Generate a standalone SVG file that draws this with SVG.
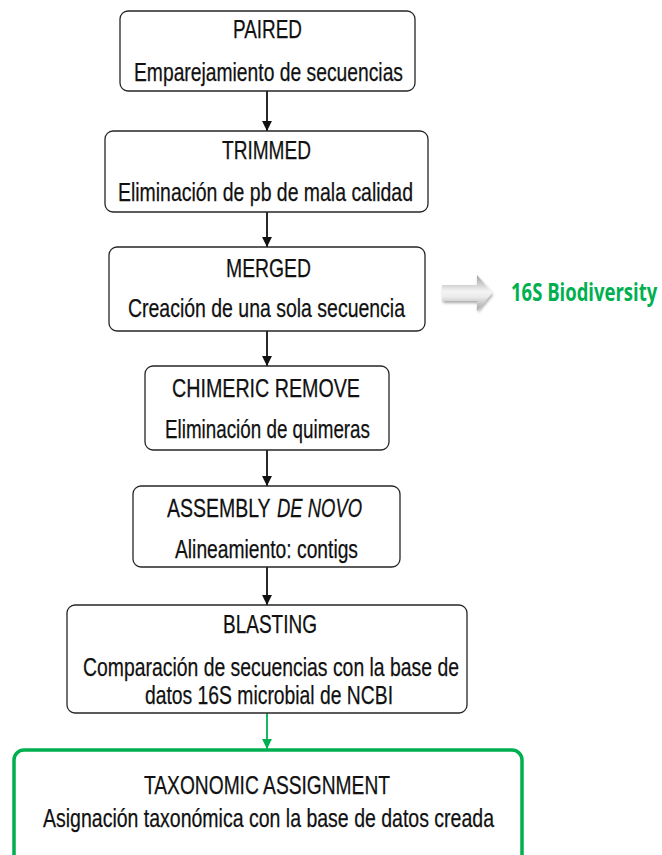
<svg xmlns="http://www.w3.org/2000/svg" width="662" height="855" viewBox="0 0 662 855">
  <defs>
    <style>
      .box { fill: #ffffff; stroke: #262626; stroke-width: 1.3; }
      .box-green { fill: #ffffff; stroke: #00b050; stroke-width: 3.5; }
      .t { font-family: "Liberation Sans", Arial, sans-serif; font-size: 26px; fill: #111111; stroke: #111111; stroke-width: 0.25; }
      .link { stroke: #111111; stroke-width: 1.8; fill: none; }
      .link-green { stroke: #00b050; stroke-width: 1.8; fill: none; }
      .note { font-family: "Open Sans", "Liberation Sans", sans-serif; font-weight: bold; font-size: 25px; fill: #00b050; }
    </style>
    <marker id="ah" viewBox="0 0 10 10" refX="10" refY="5" markerWidth="5.5" markerHeight="6" orient="auto" markerUnits="strokeWidth">
      <path d="M0,0 L10,5 L0,10 z" fill="#111111"/>
    </marker>
    <marker id="ahg" viewBox="0 0 10 10" refX="10" refY="5" markerWidth="5.5" markerHeight="6" orient="auto" markerUnits="strokeWidth">
      <path d="M0,0 L10,5 L0,10 z" fill="#00b050"/>
    </marker>
    <linearGradient id="bevel" x1="0" y1="0" x2="0" y2="1">
      <stop offset="0" stop-color="#9e9e9e"/>
      <stop offset="0.45" stop-color="#f4f4f4"/>
      <stop offset="0.6" stop-color="#ececec"/>
      <stop offset="1" stop-color="#a0a0a0"/>
    </linearGradient>
    <filter id="soft" x="-20%" y="-30%" width="140%" height="160%">
      <feGaussianBlur in="SourceAlpha" stdDeviation="1.5"/>
      <feOffset dx="1" dy="2" result="s"/>
      <feComponentTransfer><feFuncA type="linear" slope="0.35"/></feComponentTransfer>
      <feMerge><feMergeNode/><feMergeNode in="SourceGraphic"/></feMerge>
    </filter>
  </defs>

  <!-- connectors -->
  <g id="connectors">
    <line class="link" x1="267" y1="91" x2="267" y2="131" marker-end="url(#ah)"/>
    <line class="link" x1="267" y1="212" x2="267" y2="247" marker-end="url(#ah)"/>
    <line class="link" x1="267" y1="331" x2="267" y2="366" marker-end="url(#ah)"/>
    <line class="link" x1="267" y1="450" x2="267" y2="486" marker-end="url(#ah)"/>
    <line class="link" x1="267" y1="567" x2="267" y2="605" marker-end="url(#ah)"/>
    <line class="link-green" x1="267" y1="713" x2="267" y2="749" marker-end="url(#ahg)"/>
  </g>

  <g id="paired">
    <rect class="box" x="120" y="11" width="295" height="80" rx="8"/>
    <text class="t" x="233" y="38" textLength="69" lengthAdjust="spacingAndGlyphs">PAIRED</text>
    <text class="t" x="134" y="81" textLength="269" lengthAdjust="spacingAndGlyphs">Emparejamiento de secuencias</text>
  </g>

  <g id="trimmed">
    <rect class="box" x="105" y="131" width="323" height="81" rx="8"/>
    <text class="t" x="222" y="159" textLength="89" lengthAdjust="spacingAndGlyphs">TRIMMED</text>
    <text class="t" x="118" y="201" textLength="295" lengthAdjust="spacingAndGlyphs">Eliminación de pb de mala calidad</text>
  </g>

  <g id="merged">
    <rect class="box" x="109" y="247" width="316" height="84" rx="8"/>
    <text class="t" x="226" y="277" textLength="85" lengthAdjust="spacingAndGlyphs">MERGED</text>
    <text class="t" x="128" y="317" textLength="277" lengthAdjust="spacingAndGlyphs">Creación de una sola secuencia</text>
  </g>

  <g id="biodiversity">
    <polygon points="442,285 477,285 477,275 492,293 477,311 477,301 442,301" fill="url(#bevel)" filter="url(#soft)"/>
    <text class="note" transform="translate(511,301) scale(0.74,1)">16S Biodiversity</text>
  </g>

  <g id="chimeric">
    <rect class="box" x="145" y="366" width="244" height="84" rx="8"/>
    <text class="t" x="172" y="397" textLength="188" lengthAdjust="spacingAndGlyphs">CHIMERIC REMOVE</text>
    <text class="t" x="165" y="438" textLength="205" lengthAdjust="spacingAndGlyphs">Eliminación de quimeras</text>
  </g>

  <g id="assembly">
    <rect class="box" x="133" y="486" width="267" height="81" rx="8"/>
    <text class="t" transform="translate(167,517) scale(0.75,1)">ASSEMBLY</text>
    <text class="t" font-style="italic" transform="translate(277,517) scale(0.71,1)">DE NOVO</text>
    <text class="t" x="175" y="558" textLength="183" lengthAdjust="spacingAndGlyphs">Alineamiento: contigs</text>
  </g>

  <g id="blasting">
    <rect class="box" x="67" y="605" width="400" height="108" rx="8"/>
    <text class="t" x="223" y="633" textLength="94" lengthAdjust="spacingAndGlyphs">BLASTING</text>
    <text class="t" x="83" y="676" textLength="376" lengthAdjust="spacingAndGlyphs">Comparación de secuencias con la base de</text>
    <text class="t" x="145" y="704" textLength="248" lengthAdjust="spacingAndGlyphs">datos 16S microbial de NCBI</text>
  </g>

  <g id="taxonomic">
    <rect class="box-green" x="14" y="750" width="508" height="130" rx="10"/>
    <text class="t" x="144" y="794" textLength="246" lengthAdjust="spacingAndGlyphs">TAXONOMIC ASSIGNMENT</text>
    <text class="t" x="43" y="827" textLength="451" lengthAdjust="spacingAndGlyphs">Asignación taxonómica con la base de datos creada</text>
  </g>
</svg>
